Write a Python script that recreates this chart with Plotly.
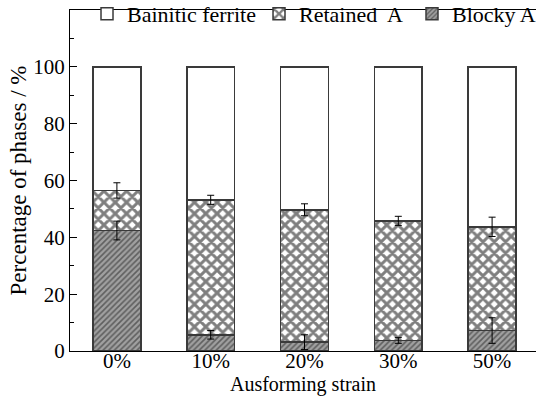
import plotly.graph_objects as go

categories = ["0%", "10%", "20%", "30%", "50%"]
blocky = [42.4, 5.7, 3.1, 3.7, 7.2]
blocky_err = [3.3, 1.5, 2.6, 1.0, 4.5]
retained_top = [56.5, 53.2, 49.7, 45.8, 43.7]
retained_err = [2.7, 1.6, 2.1, 1.6, 3.4]

retained = [t - b for t, b in zip(retained_top, blocky)]
bainitic = [100 - t for t in retained_top]

FONT = "Liberation Serif, Times New Roman, serif"
EDGE = dict(color="#3a3a3a", width=1.5)
W = 0.51

fig = go.Figure()
fig.add_trace(go.Bar(
    x=categories, y=blocky, name="Blocky A", width=W, legend="legend3",
    marker=dict(color="#a0a0a0", line=EDGE,
                pattern=dict(shape="/", bgcolor="#a0a0a0", fgcolor="#1e1e1e",
                             size=4, solidity=0.4, fillmode="overlay")),
))
fig.add_trace(go.Bar(
    x=categories, y=retained, name="Retained  A", width=W, legend="legend2",
    marker=dict(color="white", line=EDGE,
                pattern=dict(shape="x", bgcolor="white", fgcolor="black",
                             size=8, solidity=0.6, fillmode="overlay")),
))
fig.add_trace(go.Bar(
    x=categories, y=bainitic, name="Bainitic ferrite", width=W, legend="legend",
    marker=dict(color="white", line=EDGE),
))
# error bars drawn on top of all bars
for ys, es in [(blocky, blocky_err), (retained_top, retained_err)]:
    fig.add_trace(go.Scatter(
        x=categories, y=ys, mode="markers",
        marker=dict(size=1, color="rgba(0,0,0,0)"),
        error_y=dict(type="data", array=es, visible=True, color="black",
                     thickness=1, width=3.5),
        showlegend=False, hoverinfo="skip",
    ))

def leg(xpos):
    return dict(orientation="h", x=xpos, y=1.05, xanchor="left", yanchor="top",
                bgcolor="rgba(0,0,0,0)", font=dict(size=22), itemwidth=30)

fig.update_layout(
    width=536, height=398,
    margin=dict(l=70, r=0, t=10, b=47, autoexpand=False),
    barmode="stack",
    plot_bgcolor="white", paper_bgcolor="white",
    font=dict(family=FONT, size=21, color="black"),
    legend=leg(0.0365), legend2=leg(0.4056), legend3=leg(0.7339),
    showlegend=True,
)
fig.update_xaxes(
    range=[-0.5, 4.468], showline=True, linecolor="black", linewidth=1.2,
    mirror=True, ticks="", showgrid=False, ticklabelstandoff=-9,
    title=dict(text="Ausforming strain", standoff=0, font=dict(size=20)),
    tickfont=dict(size=21),
)
fig.update_yaxes(
    range=[0, 120], showline=True, linecolor="black", linewidth=1.2,
    mirror=False, ticks="inside", ticklen=7, tickcolor="black",
    tickvals=[0, 20, 40, 60, 80, 100], showgrid=False, zeroline=False,
    minor=dict(dtick=10, ticks="inside", ticklen=4, tickcolor="black", showgrid=False),
    title=dict(text="Percentage of phases / %", standoff=0, font=dict(size=23)),
    tickfont=dict(size=21),
)

fig.write_html("out.html")
